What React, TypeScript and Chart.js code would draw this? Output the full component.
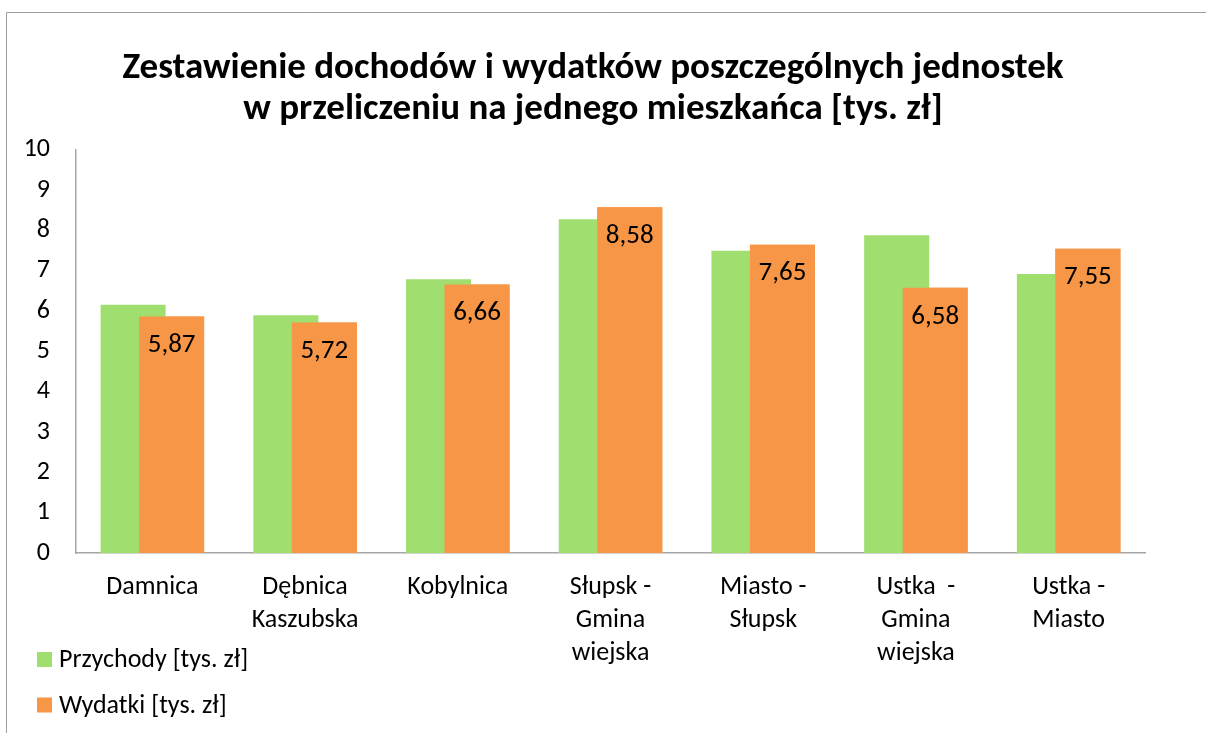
import React, { useEffect, useRef } from "react";
import { Chart, registerables } from "chart.js";

Chart.register(...registerables);

const categories: string[][] = [
  ["Damnica"],
  ["Dębnica", "Kaszubska"],
  ["Kobylnica"],
  ["Słupsk -", "Gmina", "wiejska"],
  ["Miasto -", "Słupsk"],
  ["Ustka  -", "Gmina", "wiejska"],
  ["Ustka -", "Miasto"],
];
const przychody: number[] = [6.16, 5.9, 6.79, 8.28, 7.5, 7.88, 6.92];
const wydatki: number[] = [5.87, 5.72, 6.66, 8.58, 7.65, 6.58, 7.55];
const seriesNames: string[] = ["Przychody [tys. zł]", "Wydatki [tys. zł]"];
const titleLines: string[] = [
  "Zestawienie dochodów i wydatków poszczególnych jednostek",
  "w przeliczeniu na jednego mieszkańca [tys. zł]",
];
const yTicks: number[] = [0, 1, 2, 3, 4, 5, 6, 7, 8, 9, 10];

const GREEN = "#A0DF6F";
const ORANGE = "#F79646";
const FONT = "Carlito, Calibri, Lato, 'Open Sans', sans-serif";

const framePlugin = {
  id: "frame",
  beforeDraw(chart: any) {
    const ctx = chart.ctx;
    ctx.save();
    ctx.fillStyle = "#ffffff";
    ctx.fillRect(0, 0, chart.width, chart.height);
    ctx.strokeStyle = "#9c9c9c";
    ctx.lineWidth = 1;
    ctx.beginPath();
    ctx.moveTo(6.5, 733);
    ctx.lineTo(6.5, 12.5);
    ctx.lineTo(1206, 12.5);
    ctx.stroke();
    ctx.restore();
  },
};

const overlapPlugin = {
  id: "overlapLabels",
  afterDatasetsDraw(chart: any) {
    const meta = chart.getDatasetMeta(1);
    if (!meta || meta.hidden) return;
    // draw the orange series above the green one (Excel overlap look)
    meta.controller.draw();
    const ctx = chart.ctx;
    ctx.save();
    ctx.fillStyle = "#000000";
    ctx.font = `27px ${FONT}`;
    ctx.textAlign = "center";
    ctx.textBaseline = "middle";
    meta.data.forEach((bar: any, i: number) => {
      const v = chart.data.datasets[1].data[i] as number;
      ctx.fillText(v.toFixed(2).replace(".", ","), bar.x, bar.y + 29);
    });
    ctx.restore();
  },
};

const legendPlugin = {
  id: "customLegend",
  afterDraw(chart: any) {
    const ctx = chart.ctx;
    const items = chart.data.datasets;
    ctx.save();
    ctx.font = `26px ${FONT}`;
    ctx.textAlign = "left";
    ctx.textBaseline = "middle";
    items.forEach((ds: any, i: number) => {
      const cy = 659.5 + i * 45.5;
      ctx.fillStyle = ds.backgroundColor;
      ctx.fillRect(37, cy - 7.5, 15, 15);
      ctx.fillStyle = "#000000";
      ctx.fillText(ds.label, 59, cy + 1);
    });
    ctx.restore();
  },
};

export default function App() {
  const ref = useRef<HTMLCanvasElement | null>(null);
  useEffect(() => {
    if (!ref.current) return;
    const chart = new Chart(ref.current, {
      type: "bar",
      data: {
        labels: categories,
        datasets: [
          {
            label: seriesNames[0],
            data: przychody,
            backgroundColor: GREEN,
            categoryPercentage: 0.504,
            barPercentage: 1.69,
          },
          {
            label: seriesNames[1],
            data: wydatki,
            backgroundColor: ORANGE,
            categoryPercentage: 0.504,
            barPercentage: 1.69,
          },
        ],
      },
      options: {
        animation: false,
        responsive: true,
        maintainAspectRatio: false,
        layout: { padding: { left: 0, right: 20, top: 0, bottom: 0 } },
        plugins: {
          legend: { display: false },
          tooltip: { enabled: false },
          title: {
            display: true,
            text: titleLines,
            color: "#000000",
            font: { family: FONT, size: 37, weight: "bold", lineHeight: 1.1 },
            padding: { top: 48.5, bottom: 20 },
          },
        },
        scales: {
          x: {
            grid: { display: false, drawTicks: false },
            border: { display: true, color: "#a6a6a6", width: 1.5 },
            ticks: {
              color: "#000000",
              font: { family: FONT, size: 26, lineHeight: 1.27 },
              padding: 18,
              maxRotation: 0,
              autoSkip: false,
            },
            afterFit: (s: any) => {
              s.height = 180;
            },
          },
          y: {
            min: 0,
            max: 10,
            afterBuildTicks: (s: any) => {
              s.ticks = yTicks.map((v) => ({ value: v }));
            },
            grid: { display: false, drawTicks: false },
            border: { display: true, color: "#a6a6a6", width: 1.5 },
            ticks: {
              color: "#000000",
              font: { family: FONT, size: 26 },
              padding: 26,
            },
            afterFit: (s: any) => {
              s.width = 76;
            },
          },
          y2: {
            position: "right",
            display: true,
            grid: { display: false, drawTicks: false },
            border: { display: false },
            ticks: { display: false },
            afterFit: (s: any) => {
              s.width = 41;
            },
          },
        },
      },
      plugins: [framePlugin, overlapPlugin, legendPlugin],
    });
    return () => chart.destroy();
  }, []);
  return (
    <div style={{ position: "absolute", left: 0, top: 0, width: 1206, height: 733 }}>
      <canvas ref={ref} />
    </div>
  );
}
